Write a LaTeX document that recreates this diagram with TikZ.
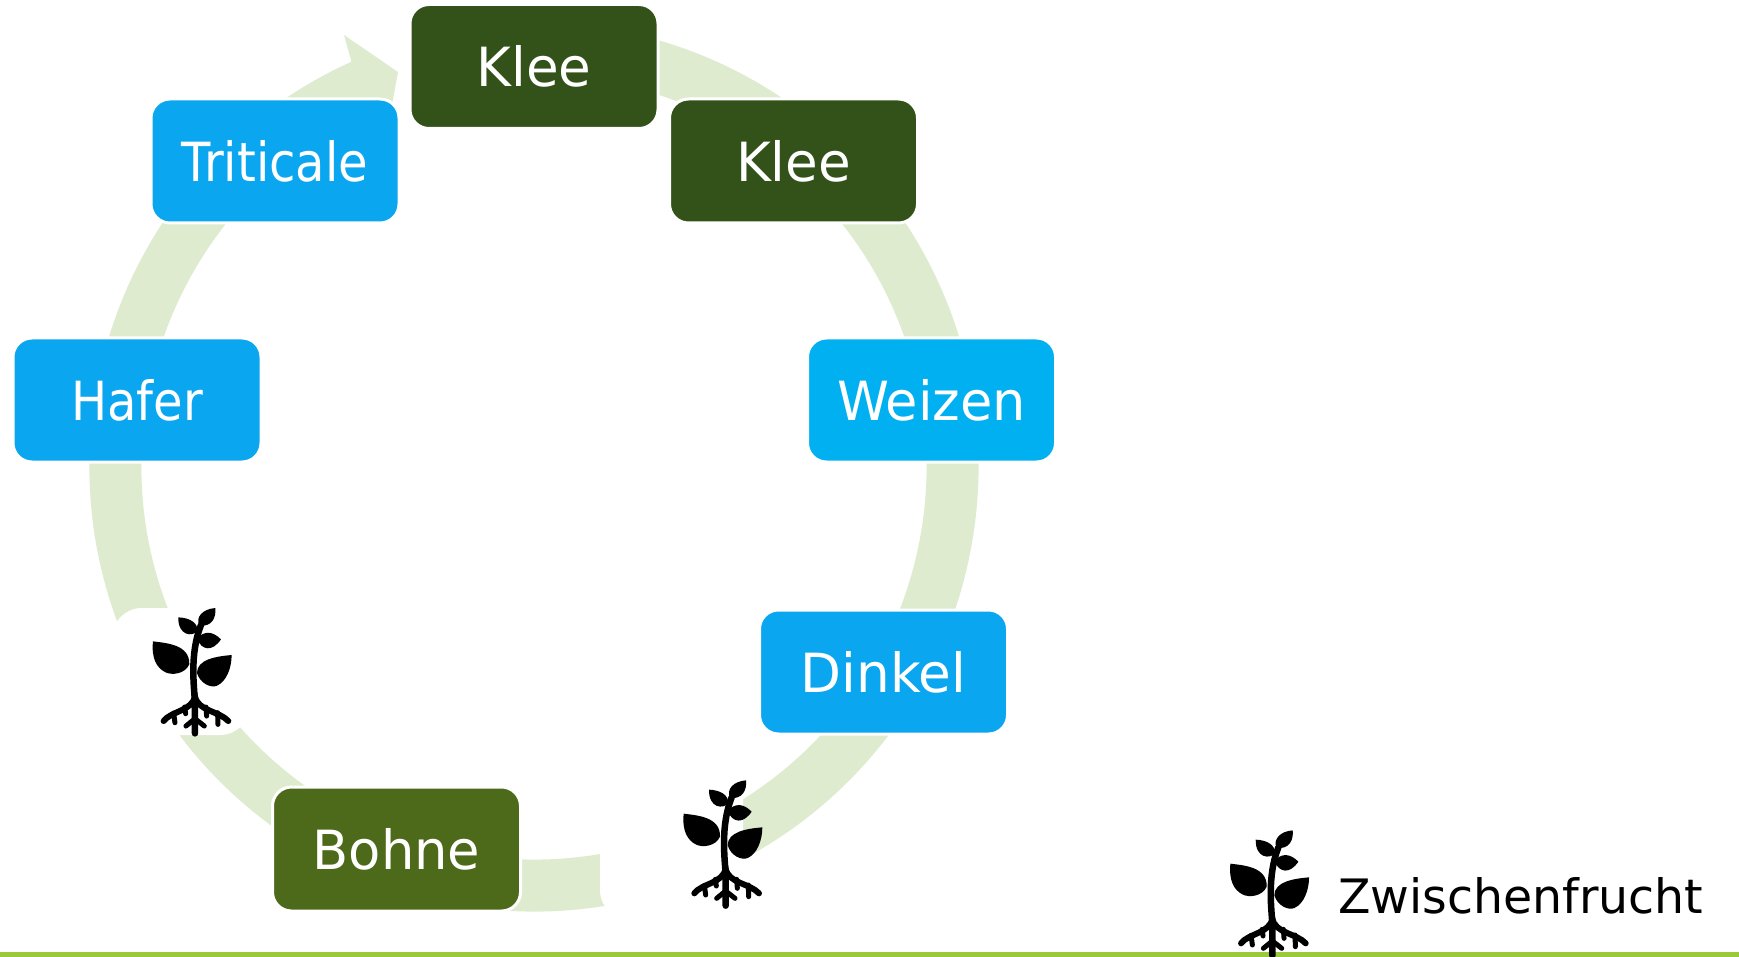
\documentclass[tikz,border=0pt]{standalone}
\usepackage{graphicx}
\usepackage{fontspec}
\setmainfont{DejaVu Sans}
\definecolor{ringc}{HTML}{DEEBCF}
\definecolor{kleec}{HTML}{32521A}
\definecolor{bluec}{HTML}{0AA6F0}
\definecolor{weizenc}{HTML}{00B0F0}
\definecolor{bohnec}{HTML}{4D6A1B}
\definecolor{barc}{HTML}{9ACA3C}
\tikzset{
  crop/.style={rounded corners=19pt,minimum width=248pt,minimum height=124pt,inner sep=0pt,
    draw=white,line width=3pt,text=white,font=\fontsize{54}{62}\selectfont},
  mask/.style={fill=white,rounded corners=30pt,inner sep=0pt},
  plant/.pic={
    \begin{scope}[scale=1/3]
    \fill[black] (210,114) .. controls (198,88) and (220,64) .. (258,61) .. controls (261,90) and (248,118) .. cycle;
    \fill[black] (147,89) .. controls (180,90) and (207,105) .. (204,130) .. controls (190,148) and (146,145) .. cycle;
    \fill[black] (203,153) .. controls (225,128) and (250,130) .. (275,155) .. controls (250,192) and (218,190) .. cycle;
    \fill[black] (71,161) .. controls (110,166) and (182,170) .. (180,230) .. controls (167,259) and (127,264) .. (107,253) .. controls (82,240) and (66,212) .. cycle;
    \fill[black] (307,202) .. controls (260,206) and (203,215) .. (203,256) .. controls (212,287) and (245,302) .. (263,294) .. controls (292,281) and (307,240) .. cycle;
    \draw[black,line width=6.5pt,line cap=round] (197,437) -- (197,345) .. controls (195,300) and (180,200) .. (215,112);
    \draw[black,line width=6pt,line cap=round] (103,400) .. controls (125,370) and (190,370) .. (197,325) .. controls (204,370) and (270,370) .. (297,400);
    \draw[black,line width=5pt,line cap=round]
      (133,376) -- (137,405) (166,358) -- (169,378) (265,375) -- (266,410) (230,358) -- (232,385)
      (170,415) -- (197,393) -- (225,415);
    \end{scope}
  }
}
\newcommand{\squeeze}[2]{\raisebox{1pt}{\scalebox{#1}[1]{#2}}}
\begin{document}
\begin{tikzpicture}[x=1pt,y=-1pt]
\useasboundingbox (0,0) rectangle (1739,957);
\fill[ringc] ([shift={(534,467)}]-80:444.5) arc[start angle=-80,end angle=245.75,radius=444.5]
  -- (344,35) -- (398,72) -- (387,132) -- ([shift={(534,467)}]245.75:392.5)
  arc[start angle=245.75,end angle=-80,radius=392.5] -- cycle;
\fill[barc] (0,952) rectangle (1739,957);
\node[mask,minimum width=138pt,minimum height=127pt] (maskA) at (181,671.5) {};
\node[mask,minimum width=143pt,minimum height=160pt] (maskB) at (671.5,840) {};
\node[crop,fill=kleec] (klee1) at (534,66.5) {\squeeze{0.983}{Klee}};
\node[crop,fill=kleec] (klee2) at (793.5,161) {\squeeze{0.983}{Klee}};
\node[crop,fill=bluec] (triticale) at (275,161) {\squeeze{0.89}{Triticale}};
\node[crop,fill=bluec] (hafer) at (137,400) {\squeeze{0.89}{Hafer}};
\node[crop,fill=weizenc] (weizen) at (931.5,400) {\squeeze{0.973}{Weizen}};
\node[crop,fill=bluec] (dinkel) at (883.5,672) {\squeeze{0.985}{Dinkel}};
\node[crop,fill=bohnec] (bohne) at (396.5,849) {\squeeze{0.977}{Bohne}};
\pic at (660,760) {plant};
\pic at (129.3,587.7) {plant};
\pic at (1206.7,810) {plant};
\node[anchor=base west,inner sep=0pt,text=black,font=\fontsize{47.4}{56}\selectfont] (legend) at (1338,913) {Zwischenfrucht};
\end{tikzpicture}
\end{document}
